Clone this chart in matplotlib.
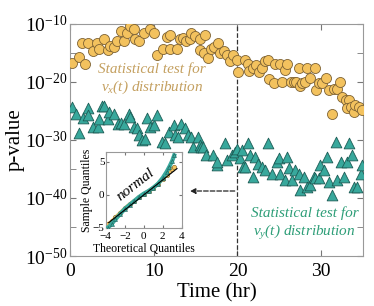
import numpy as np
import matplotlib
matplotlib.use("Agg")
import matplotlib.pyplot as plt

plt.rcParams['font.family'] = ['Liberation Serif', 'DejaVu Serif']
plt.rcParams['mathtext.fontset'] = 'custom'
plt.rcParams['mathtext.rm'] = 'Liberation Serif'
plt.rcParams['mathtext.it'] = 'Liberation Serif:italic'

# p-values for vx(t): (time hr, log10 p)
vx_t = [0.3, 1.1, 1.75, 1.4, 2.1, 2.8, 3.2, 3.5, 4.1, 4.5, 4.8, 5.2, 5.6, 6.1, 6.5, 6.8, 7.2,
        7.6, 7.8, 8.3, 8.8, 9.6, 10.0, 10.4, 11.1, 11.6, 12.0, 12.0, 12.8, 13.1, 13.5, 13.9,
        14.3, 14.5, 14.9, 15.5, 16.1, 15.5, 16.0, 16.5, 16.8, 17.2, 17.7, 17.9, 18.4, 18.8,
        19.1, 19.5, 19.9, 20.1, 20.9, 21.2, 21.4, 21.9, 22.2, 22.6, 22.9, 23.3, 23.6, 23.8,
        24.3, 24.5, 25.1, 25.3, 25.7, 25.9, 26.4, 26.7, 27.0, 27.3, 27.5, 27.7, 28.1, 28.3,
        28.7, 29.2, 29.4, 29.7, 30.1, 30.6, 30.9, 31.3, 31.5, 31.9, 32.2, 32.5, 32.9, 33.3,
        33.1, 33.5, 33.9, 34.0, 34.5, 34.9]
vx_logp = [-16.7, -15.8, -17.0, -13.4, -13.3, -14.8, -13.3, -14.4, -12.6, -14.6, -13.9, -14.0,
           -13.0, -11.2, -13.0, -11.7, -10.4, -11.0, -12.7, -13.0, -11.7, -11.0, -11.6, -15.4,
           -14.3, -12.3, -14.4, -12.0, -14.4, -12.7, -12.4, -13.0, -12.7, -11.6, -12.2, -12.7,
           -12.0, -14.6, -15.1, -16.0, -14.3, -14.0, -13.4, -15.1, -14.8, -15.4, -16.4, -15.4,
           -16.3, -18.3, -16.2, -16.9, -18.1, -17.7, -17.1, -18.3, -17.7, -16.4, -16.3, -19.5,
           -20.3, -16.9, -16.9, -20.0, -18.0, -17.0, -20.0, -20.0, -20.0, -17.7, -20.8, -20.3,
           -20.0, -17.7, -19.3, -17.7, -21.4, -20.3, -20.3, -19.4, -21.4, -25.5, -21.2, -21.2,
           -20.0, -22.7, -23.2, -23.1, -24.6, -24.3, -25.2, -24.0, -24.3, -24.9]

# p-values for vy(t)
vy_t = [0.3, 0.7, 1.1, 1.5, 2.1, 2.2, 2.7, 3.3, 3.5, 3.8, 4.1, 4.5, 4.7, 5.3, 5.7, 6.1, 6.5,
        7.0, 7.2, 7.6, 8.0, 8.2, 8.6, 9.0, 9.2, 9.6, 10.0, 10.4, 11.0, 11.4, 11.8, 12.4, 12.5,
        12.9, 13.3, 13.7, 14.1, 14.5, 14.7, 15.3, 15.5, 15.7, 15.9, 16.3, 17.1, 17.5, 17.5,
        18.5, 18.7, 19.3, 19.7, 19.9, 20.3, 20.5, 20.7, 20.9, 21.3, 21.5, 21.9, 22.1, 22.5,
        22.9, 23.3, 23.7, 24.1, 24.7, 24.9, 25.1, 25.7, 25.9, 26.1, 26.5, 26.9, 27.3, 27.5,
        27.9, 28.3, 28.7, 29.1, 29.3, 29.7, 29.9, 30.3, 30.7, 30.9, 31.3, 31.7, 31.9, 32.3,
        32.7, 33.1, 33.3, 33.7, 33.9, 34.3, 34.7, 34.9]
vy_logp = [-24.4, -25.5, -28.8, -26.3, -24.6, -25.7, -27.8, -27.8, -26.4, -24.2, -24.2, -26.5,
           -25.2, -25.5, -27.2, -27.1, -27.2, -25.5, -26.0, -27.8, -28.0, -29.2, -30.0, -29.9,
           -26.3, -27.8, -27.5, -25.7, -30.3, -30.6, -28.6, -27.5, -29.2, -29.5, -27.2, -28.0,
           -29.2, -29.5, -31.2, -29.5, -30.9, -31.2, -31.2, -32.6, -32.6, -34.4, -33.8, -30.6,
           -33.5, -32.6, -32.1, -31.5, -33.2, -31.8, -34.6, -34.6, -30.6, -32.6, -36.4, -32.9,
           -34.1, -34.6, -35.2, -30.6, -35.8, -33.8, -33.2, -35.8, -36.9, -32.9, -34.9, -36.9,
           -35.2, -35.8, -38.7, -36.4, -38.1, -37.8, -36.4, -36.6, -36.6, -34.4, -35.2, -32.9,
           -37.2, -39.5, -30.3, -36.9, -33.8, -36.4, -33.8, -30.6, -32.6, -38.1, -38.1, -35.8,
           -34.4]

# inset Q-Q plot
qq_theo = [-3.8, -3.4, -3.0, -2.5, -2.0, -1.5, -1.0, -0.5, 0.0, 0.5, 1.0, 1.5, 2.0, 2.4, 2.7, 3.0, 3.2]
qq_vy = [-5.0, -4.4, -3.7, -2.9, -2.1, -1.5, -0.9, -0.3, 0.2, 0.6, 1.1, 1.7, 2.6, 3.5, 4.3, 5.2, 6.0]
qq_vx = [-4.4, -4.0, -3.4, -2.7, -2.0, -1.4, -0.9, -0.3, 0.2, 0.6, 1.1, 1.7, 2.4, 3.1, 3.6, 4.0, 4.2]
ref_x = [-3.7, 3.5]
ref_y = [-4.2, 4.0]

orange = '#f3c25e'
orange_edge = '#7d6233'
teal = '#38a89c'
teal_edge = '#1d5c56'

fig = plt.figure(figsize=(3.74, 3.06), dpi=100)
ax = fig.add_axes([0.187, 0.163, 0.784, 0.76])

ax.scatter(vx_t, 10.0 ** np.array(vx_logp), s=52, marker='o', facecolor=orange,
           edgecolor=orange_edge, linewidth=0.6, zorder=3)
ax.scatter(vy_t, 10.0 ** np.array(vy_logp), s=60, marker='^', facecolor=teal,
           edgecolor=teal_edge, linewidth=0.6, zorder=3)

ax.set_yscale('log')
ax.set_xlim(0, 35)
ax.set_ylim(1e-50, 1e-10)
ax.axvline(20, color='#333333', ls='--', lw=0.9, zorder=2)
ax.annotate('', xy=(14.0, 10 ** -38.8), xytext=(20, 10 ** -38.8),
            arrowprops=dict(arrowstyle='-|>', ls='--', color='#222222', lw=0.9,
                            mutation_scale=8), zorder=2)

ax.set_xticks([0, 10, 20, 30])
ax.set_yticks([10.0 ** e for e in [-50, -40, -30, -20, -10]])
ax.set_yticklabels([r'10$^{%d}$' % e for e in [-50, -40, -30, -20, -10]])
ax.set_yticks([10.0 ** e for e in [-45, -35, -25, -15]], minor=True)
ax.yaxis.set_minor_formatter(matplotlib.ticker.NullFormatter())
ax.tick_params(which='both', direction='in', top=True, right=True, length=4,
               color='#777777', labelsize=14)
ax.tick_params(axis='y', pad=2)
ax.tick_params(axis='x', pad=5)
for sp in ax.spines.values():
    sp.set_color('#999999')
    sp.set_linewidth(0.8)
ax.set_xlabel('Time (hr)', fontsize=15, labelpad=2)
ax.set_ylabel('p-value', fontsize=15, labelpad=0)

ax.text(9.8, 10 ** -19.6, 'Statistical test for\n$v_x$(t) distribution', color='#c4a060',
        fontsize=11, style='italic', ha='center', va='center', linespacing=1.25)
ax.text(28.0, 10 ** -44.5, 'Statistical test for\n$v_y$(t) distribution', color='#2e9e78',
        fontsize=11, style='italic', ha='center', va='center', linespacing=1.25)

ins = fig.add_axes([0.283, 0.255, 0.203, 0.248])
ins.plot(qq_theo, qq_vx, color=orange, lw=2.5, zorder=2)
ins.scatter(qq_theo, qq_vx, s=10, color=orange, edgecolor=orange_edge, linewidth=0.4, zorder=2)
ins.plot(qq_theo, qq_vy, color=teal, lw=3, zorder=3)
ins.scatter(qq_theo, qq_vy, s=8, marker='^', color=teal, edgecolor=teal_edge, linewidth=0.4, zorder=3)
ins.plot(ref_x, ref_y, color='black', lw=0.8, zorder=4)
ins.set_xlim(-4, 4)
ins.set_ylim(-5, 6.5)
ins.set_xticks([-4, -2, 0, 2, 4])
ins.set_yticks([-5, 0, 5])
ins.tick_params(direction='in', top=True, right=True, length=2, labelsize=8, pad=1,
                color='#777777')
ins.tick_params(axis='x', pad=3)
for sp in ins.spines.values():
    sp.set_color('#999999')
    sp.set_linewidth(0.8)
ins.set_xlabel('Theoretical Quantiles', fontsize=8.5, labelpad=1)
ins.set_ylabel('Sample Quantiles', fontsize=8.5, labelpad=0)
ins.text(-0.9, 1.6, 'normal', fontsize=11, style='italic', rotation=38,
         ha='center', va='center')

fig.savefig('out.png', dpi=100)
